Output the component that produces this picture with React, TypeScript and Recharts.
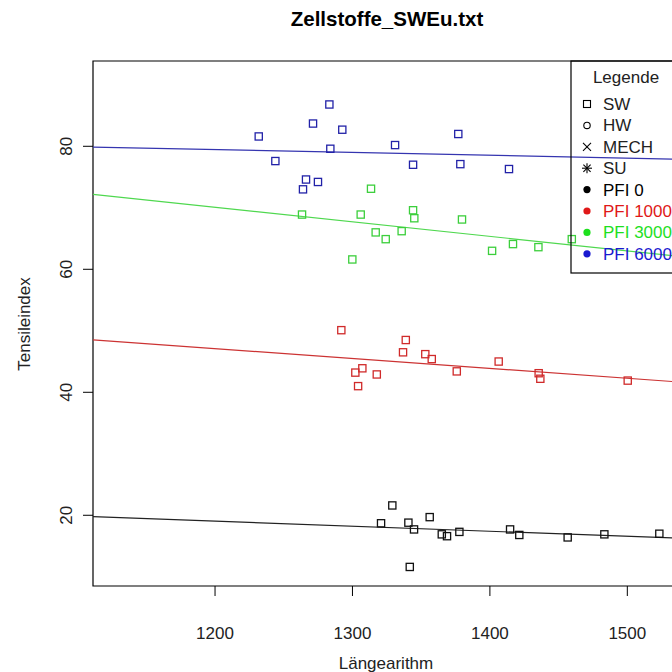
import React from 'react';
import { ScatterChart, Scatter, XAxis, YAxis, ReferenceLine, ReferenceArea } from 'recharts';

// Längearithm (x) and Tensileindex (y) per PFI level
const pfi0X = [1329.0, 1356.2, 1320.8, 1340.7, 1344.8, 1365.0, 1368.8, 1377.8, 1414.7, 1421.4, 1456.6, 1483.3, 1523.3, 1341.7];
const pfi0Y = [21.6, 19.7, 18.7, 18.8, 17.7, 16.9, 16.6, 17.3, 17.7, 16.8, 16.4, 16.9, 17.0, 11.6];

const pfi1000X = [1291.9, 1338.8, 1336.8, 1353.0, 1357.7, 1406.4, 1307.2, 1302.1, 1317.7, 1375.9, 1304.1, 1435.5, 1436.7, 1500.3];
const pfi1000Y = [50.1, 48.5, 46.5, 46.2, 45.4, 45.0, 43.9, 43.2, 42.9, 43.4, 41.0, 43.1, 42.2, 41.9];

const pfi3000X = [1263.3, 1313.5, 1306.0, 1299.9, 1316.9, 1324.2, 1335.8, 1344.1, 1345.0, 1379.7, 1401.6, 1416.8, 1435.3, 1459.6];
const pfi3000Y = [68.9, 73.1, 68.9, 61.6, 66.0, 64.9, 66.2, 69.6, 68.3, 68.1, 63.0, 64.1, 63.6, 64.9];

const pfi6000X = [1231.8, 1243.9, 1264.0, 1266.2, 1274.9, 1271.3, 1283.2, 1283.9, 1292.6, 1331.0, 1344.1, 1377.0, 1378.5, 1413.9];
const pfi6000Y = [81.6, 77.6, 73.0, 74.6, 74.2, 83.7, 86.8, 79.6, 82.7, 80.2, 77.0, 82.0, 77.1, 76.3];

// regression line end values at the x-range limits
const fitX = [1111.2, 1542.7];
const fit0 = [19.77, 16.23];
const fit1000 = [48.52, 41.59];
const fit3000 = [72.18, 61.98];
const fit6000 = [79.87, 77.88];

const xTicks = [1200, 1300, 1400, 1500];
const yTicks = [20, 40, 60, 80];
const xDomain: [number, number] = [1111.2, 1542.7];
const yDomain: [number, number] = [8.5, 93.87];

const legendShapes = ['SW', 'HW', 'MECH', 'SU'];
const legendLevels = ['PFI 0', 'PFI 1000', 'PFI 3000', 'PFI 6000'];

const C_BLACK = '#111111';
const C_RED = '#d02a2a';
const C_GREEN = '#3ccf3c';
const C_BLUE = '#2222a8';
const levelText = ['#000000', '#e01818', '#1ee01e', '#1a1ad0'];

const FONT = '"Liberation Sans", Arial, Helvetica, sans-serif';

const zip = (xs: number[], ys: number[]) => xs.map((x, i) => ({ x, y: ys[i] }));

const square = (color: string) => (props: any) => {
  const { cx, cy } = props;
  if (cx == null || cy == null) return <g />;
  return <rect x={cx - 3.6} y={cy - 3.6} width={7.2} height={7.2} fill="none" stroke={color} strokeWidth={1.3} />;
};

const XTick = (props: any) => {
  const { x, y, payload } = props;
  return (
    <text x={x} y={y + 43} textAnchor="middle" fontFamily={FONT} fontSize={17} fill="#222">
      {payload.value}
    </text>
  );
};

const YTick = (props: any) => {
  const { x, y, payload } = props;
  const bx = x - 11;
  return (
    <text x={bx} y={y} transform={`rotate(-90, ${bx}, ${y})`} textAnchor="middle" fontFamily={FONT} fontSize={17} fill="#222">
      {payload.value}
    </text>
  );
};

const LegendSymbol = ({ kind, cx, cy, color }: { kind: string; cx: number; cy: number; color: string }) => {
  if (kind === 'SW') return <rect x={cx - 3.5} y={cy - 3.5} width={7} height={7} fill="none" stroke="#000" strokeWidth={1.1} />;
  if (kind === 'HW') return <circle cx={cx} cy={cy} r={3.2} fill="none" stroke="#000" strokeWidth={1.1} />;
  if (kind === 'MECH')
    return (
      <g stroke="#000" strokeWidth={1.1}>
        <line x1={cx - 4} y1={cy - 4} x2={cx + 4} y2={cy + 4} />
        <line x1={cx - 4} y1={cy + 4} x2={cx + 4} y2={cy - 4} />
      </g>
    );
  if (kind === 'SU')
    return (
      <g stroke="#000" strokeWidth={1.1}>
        <line x1={cx - 5} y1={cy} x2={cx + 5} y2={cy} />
        <line x1={cx} y1={cy - 5} x2={cx} y2={cy + 5} />
        <line x1={cx - 3.6} y1={cy - 3.6} x2={cx + 3.6} y2={cy + 3.6} />
        <line x1={cx - 3.6} y1={cy + 3.6} x2={cx + 3.6} y2={cy - 3.6} />
      </g>
    );
  return <circle cx={cx} cy={cy} r={3.6} fill={color} />;
};

export default function App() {
  const series = [
    { data: zip(pfi0X, pfi0Y), color: C_BLACK, fit: fit0, lineColor: '#222222' },
    { data: zip(pfi1000X, pfi1000Y), color: C_RED, fit: fit1000, lineColor: '#cc3333' },
    { data: zip(pfi3000X, pfi3000Y), color: C_GREEN, fit: fit3000, lineColor: '#4fd84f' },
    { data: zip(pfi6000X, pfi6000Y), color: C_BLUE, fit: fit6000, lineColor: '#3535b0' },
  ];

  const rowY0 = 104;
  const rowStep = 21.4;

  return (
    <div style={{ position: 'fixed', left: 0, top: 0, width: 672, height: 672, overflow: 'hidden', background: '#fff' }}>
      <div style={{ position: 'absolute', left: 0, top: 0 }}>
        <ScatterChart width={720} height={672} margin={{ top: 61, right: 34, bottom: 36, left: 33 }}>
          <XAxis
            type="number"
            dataKey="x"
            domain={xDomain}
            ticks={xTicks}
            allowDataOverflow
            height={50}
            axisLine={false}
            tickLine={{ stroke: '#000' }}
            tickSize={10}
            tickMargin={0}
            tick={<XTick />}
          />
          <YAxis
            type="number"
            dataKey="y"
            domain={yDomain}
            ticks={yTicks}
            allowDataOverflow
            width={60}
            axisLine={false}
            tickLine={{ stroke: '#000' }}
            tickSize={10}
            tickMargin={0}
            tick={<YTick />}
          />
          <ReferenceArea
            x1={xDomain[0]}
            x2={xDomain[1]}
            y1={yDomain[0]}
            y2={yDomain[1]}
            fill="none"
            fillOpacity={0}
            stroke="#000"
            strokeWidth={1.2}
            ifOverflow="visible"
          />
          {series.map((s, i) => (
            <Scatter key={'s' + i} data={s.data} fill={s.color} shape={square(s.color)} isAnimationActive={false} />
          ))}
          {series.map((s, i) => (
            <ReferenceLine
              key={'l' + i}
              segment={[
                { x: fitX[0], y: s.fit[0] },
                { x: fitX[1], y: s.fit[1] },
              ]}
              stroke={s.lineColor}
              strokeWidth={1.2}
              ifOverflow="visible"
            />
          ))}
        </ScatterChart>
      </div>
      <svg width={672} height={672} style={{ position: 'absolute', left: 0, top: 0, pointerEvents: 'none' }}>
        <text x={387} y={26} textAnchor="middle" fontFamily={FONT} fontSize={20.5} fontWeight="bold" fill="#000">
          Zellstoffe_SWEu.txt
        </text>
        <text x={386} y={669} textAnchor="middle" fontFamily={FONT} fontSize={17} fill="#222">
          Längearithm
        </text>
        <text x={29.5} y={324} transform="rotate(-90, 29.5, 324)" textAnchor="middle" fontFamily={FONT} fontSize={17} fill="#222">
          Tensileindex
        </text>
        <rect x={571} y={61} width={115} height={212} fill="none" stroke="#000" strokeWidth={1.2} />
        <text x={626} y={82.5} textAnchor="middle" fontFamily={FONT} fontSize={17} fill="#222">
          Legende
        </text>
        {legendShapes.map((name, i) => {
          const cy = rowY0 + i * rowStep;
          return (
            <g key={name}>
              <LegendSymbol kind={name} cx={587} cy={cy} color="#000" />
              <text x={603} y={cy + 6} fontFamily={FONT} fontSize={17} fill="#222">
                {name}
              </text>
            </g>
          );
        })}
        {legendLevels.map((name, i) => {
          const cy = rowY0 + (i + 4) * rowStep;
          return (
            <g key={name}>
              <LegendSymbol kind="dot" cx={587} cy={cy} color={levelText[i]} />
              <text x={603} y={cy + 6} fontFamily={FONT} fontSize={17} fill={levelText[i]}>
                {name}
              </text>
            </g>
          );
        })}
      </svg>
    </div>
  );
}
